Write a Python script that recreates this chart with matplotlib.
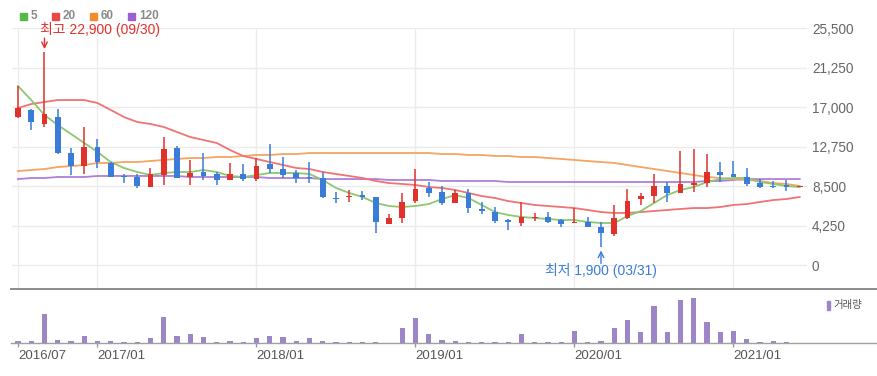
import numpy as np
import matplotlib.pyplot as plt
from matplotlib.lines import Line2D
from matplotlib.patches import Rectangle

plt.rcParams['font.family'] = ['Liberation Sans', 'Noto Sans CJK KR', 'DejaVu Sans']

# monthly candles, 2016/07 .. 2021/06
opens = [15920, 16680, 15170, 15920, 12050, 10650, 12700, 10980, 9580, 9470,
         8390, 9680, 12590, 9470, 10010, 9790, 9150, 9790, 9250, 10870,
         10330, 9900, 9470, 9360, 7210, 7320, 7530, 7320, 4410, 5060,
         6890, 8290, 7850, 6670, 7750, 6030, 5700, 4840, 4520, 5060,
         5170, 4840, 4520, 4630, 4090, 3340, 5060, 7100, 7420, 8500,
         7750, 8610, 8820, 10010, 9790, 9470, 8820, 8500, 8610, 8390]
closes = [16890, 15390, 16250, 12050, 10650, 12700, 11080, 9470, 9470, 8500,
          9790, 12480, 9360, 9900, 9580, 9150, 9790, 9250, 10650, 10330,
          9680, 9360, 9360, 7320, 7100, 7420, 7320, 4630, 5060, 6780,
          8180, 7750, 6670, 7750, 6130, 5810, 4730, 4630, 5170, 5170,
          4630, 4410, 4630, 4090, 3440, 5060, 6890, 7420, 8500, 7750,
          8720, 8820, 10010, 9680, 9470, 8720, 8390, 8390, 8390, 8500]
highs = [19260, 16780, 22900, 16790, 12590, 14850, 13560, 11080, 9790, 9790,
         10440, 13770, 12800, 11300, 12050, 10010, 10980, 10870, 11510, 13020,
         11620, 10220, 11080, 10010, 7850, 8070, 7960, 7320, 5490, 7750,
         10330, 8930, 8500, 8070, 8180, 6780, 6240, 4950, 6780, 5600,
         5700, 4950, 6130, 5160, 4630, 6460, 8180, 7750, 9790, 8930,
         12270, 12480, 11940, 11080, 11190, 10440, 9250, 9040, 9150, 8550]
lows = [15820, 14530, 14850, 11940, 9680, 9790, 10440, 9470, 8820, 8290,
        8390, 8610, 9360, 8610, 9150, 8610, 9150, 9040, 9040, 9900,
        9360, 8820, 8820, 7210, 6670, 6780, 6990, 3440, 4410, 4520,
        6670, 7320, 6460, 6670, 5600, 5490, 4520, 3770, 4200, 4730,
        4520, 4090, 4520, 4090, 1900, 3120, 4950, 6460, 6670, 6780,
        7750, 7850, 8390, 8930, 9470, 8500, 8290, 8290, 7960, 8390]
volumes = [7, 7, 86, 10, 7, 22, 7, 7, 4, 4,
           15, 79, 22, 26, 18, 4, 7, 4, 15, 22,
           18, 7, 15, 7, 4, 4, 4, 4, 1, 45,
           75, 26, 10, 6, 4, 4, 4, 4, 26, 4,
           4, 4, 37, 4, 7, 45, 70, 33, 112, 33,
           130, 134, 63, 33, 37, 11, 4, 7, 4, 0]

ma5 = [19260, 17750, 16140, 15060, 14100, 13130, 12160, 11080, 10440, 10010,
       9680, 9900, 10010, 10010, 10220, 10010, 9580, 9470, 9680, 9900,
       9900, 9900, 9790, 9150, 8290, 7750, 7320, 6670, 6350, 6240,
       6350, 6560, 7100, 7530, 7210, 6460, 5700, 5380, 5170, 5060,
       4950, 4840, 4840, 4630, 4520, 4520, 5270, 5810, 6670, 7530,
       8070, 8390, 8930, 9250, 9360, 9360, 8930, 8720, 8500, 8390]
ma20 = [16890, 17320, 17540, 17750, 17750, 17750, 17430, 16680, 15920, 15390,
        15170, 14850, 14310, 13770, 13450, 13130, 12370, 11730, 11410, 11080,
        10760, 10440, 10330, 10010, 9790, 9580, 9360, 9040, 8820, 8720,
        8610, 8390, 8290, 8070, 7750, 7420, 7210, 6880, 6670, 6460,
        6350, 6240, 6130, 5920, 5700, 5600, 5600, 5700, 5810, 5920,
        6030, 6130, 6130, 6240, 6460, 6560, 6780, 6990, 7100, 7320]
ma60 = [10110, 10220, 10330, 10540, 10650, 10760, 10980, 10980, 11080, 11080,
        11190, 11300, 11410, 11510, 11510, 11620, 11620, 11730, 11840, 11840,
        11940, 11940, 12050, 12050, 12050, 12050, 12050, 12050, 12050, 12050,
        12050, 12050, 11940, 11940, 11840, 11840, 11730, 11730, 11620, 11620,
        11510, 11410, 11300, 11190, 11080, 10980, 10760, 10540, 10330, 10110,
        9900, 9680, 9470, 9360, 9250, 9150, 9040, 8820, 8720, 8500]
ma120 = [9250, 9360, 9360, 9470, 9470, 9470, 9580, 9580, 9580, 9580,
         9580, 9580, 9580, 9470, 9470, 9470, 9470, 9470, 9470, 9360,
         9360, 9360, 9360, 9250, 9250, 9250, 9250, 9250, 9150, 9150,
         9150, 9150, 9040, 9040, 9040, 9040, 9040, 8930, 8930, 8930,
         8930, 8930, 8930, 8930, 8930, 8930, 8930, 8930, 8930, 8930,
         8930, 8930, 9040, 9040, 9150, 9250, 9250, 9250, 9250, 9250]

tick_idx = [0, 6, 18, 30, 42, 54]
tick_labels = ['2016/07', '2017/01', '2018/01', '2019/01', '2020/01', '2021/01']
y_ticks = [0, 4250, 8500, 12750, 17000, 21250, 25500]

RED = '#e0322b'
BLUE = '#3b7cd8'
GRID = '#ebebeb'
W, H = 878, 376

fig = plt.figure(figsize=(W / 100, H / 100), dpi=100)


def fx(px):
    return px / W


def fy(py):
    return 1 - py / H


x = np.arange(len(opens))
o = np.array(opens, float)
c = np.array(closes, float)
up = c >= o
colors = np.where(up, RED, BLUE)

xlim = ((12 - 18) / 13.25, (807 - 18) / 13.25)

ax = fig.add_axes([fx(12), fy(289), fx(795), 261 / H])
ax.set_xlim(*xlim)
ax.set_ylim(-2580, 25500)
for s in ax.spines.values():
    s.set_visible(False)
for yv in y_ticks:
    ax.axhline(yv, color=GRID, lw=1, zorder=0)
for t in tick_idx:
    ax.axvline(t, color=GRID, lw=1, zorder=0)

ax.plot(x, ma120, color='#b07fd8', lw=1.3, zorder=2)
ax.plot(x, ma60, color='#f5a462', lw=1.3, zorder=2)
ax.plot(x, ma20, color='#ef7373', lw=1.3, zorder=2)
ax.plot(x, ma5, color='#8cc870', lw=1.3, zorder=2)

ax.vlines(x, lows, highs, colors=colors, lw=1.1, zorder=3)
body = np.maximum(np.abs(c - o), 110)
ax.bar(x, body, bottom=np.minimum(o, c), width=0.45, color=colors, lw=0, zorder=4)

ax.set_xticks([])
ax.yaxis.tick_right()
ax.set_yticks(y_ticks)
ax.set_yticklabels([f'{v:,}' for v in y_ticks])
ax.tick_params(axis='y', length=0, pad=3.6, labelsize=9.8, labelcolor='#666666')

# high / low marks
hi_i = int(np.argmax(highs))
lo_i = int(np.argmin(lows))
ax.annotate('', xy=(hi_i, highs[hi_i]), xytext=(0, 14), textcoords='offset pixels',
            arrowprops=dict(arrowstyle='->', color=RED, lw=1, shrinkA=0, shrinkB=2.2),
            annotation_clip=False)
ax.annotate('최고 22,900 (09/30)', xy=(hi_i, highs[hi_i]), xytext=(-4, 23),
            textcoords='offset pixels', ha='left', va='center', color=RED,
            fontsize=10, annotation_clip=False)
ax.annotate('', xy=(lo_i, lows[lo_i]), xytext=(0, -16), textcoords='offset pixels',
            arrowprops=dict(arrowstyle='->', color=BLUE, lw=1, shrinkA=0, shrinkB=2.2),
            annotation_clip=False)
ax.annotate('최저 1,900 (03/31)', xy=(lo_i, lows[lo_i]), xytext=(0, -23),
            textcoords='offset pixels', ha='center', va='center', color=BLUE,
            fontsize=10, annotation_clip=False)

# legend
legend_items = [('5', '#55b947', 20), ('20', '#e94848', 52), ('60', '#f28c2c', 90), ('120', '#9b5fcf', 128)]
for lab, col, px in legend_items:
    fig.patches.append(Rectangle((fx(px), fy(19.5)), 7 / W, 7 / H, color=col,
                                 transform=fig.transFigure))
    fig.text(fx(px + 11), fy(16), lab, color='#8a8a8a', fontsize=8.5,
             fontweight='bold', va='center', ha='left')

# volume
axv = fig.add_axes([fx(12), fy(343), fx(795), 54 / H])
axv.set_xlim(*xlim)
axv.set_ylim(0, max(volumes) * 54 / 44.7)
axv.bar(x, volumes, width=0.4, color='#9c86c8', lw=0)
for s in axv.spines.values():
    s.set_visible(False)
axv.set_yticks([])
axv.set_xticks(tick_idx)
axv.set_xticklabels(tick_labels, ha='left')
axv.tick_params(axis='x', length=3, width=1, color='#999999', pad=2,
                labelsize=9.5, labelcolor='#555555')

fig.add_artist(Line2D([fx(11), 1], [fy(289), fy(289)], color='#8c8c8c', lw=1.4))
fig.add_artist(Line2D([fx(11), 1], [fy(343), fy(343)], color='#a0a0a0', lw=1.0))

fig.patches.append(Rectangle((fx(827), fy(310)), 3 / W, 9 / H, color='#9c86c8',
                             transform=fig.transFigure))
fig.text(fx(833), fy(305), '거래량', color='#555555', fontsize=7.5, va='center', ha='left')

fig.savefig('out.png', dpi=100, facecolor='white')
